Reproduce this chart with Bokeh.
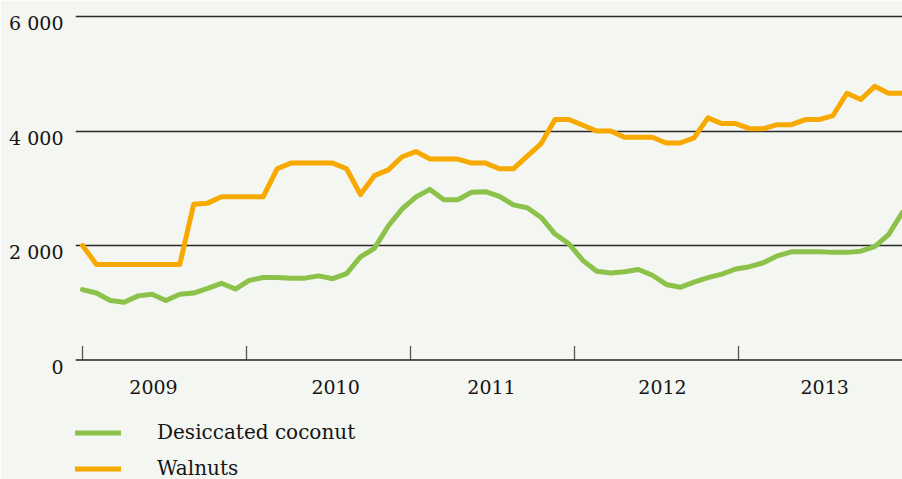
from bokeh.plotting import figure
from bokeh.models import (Range1d, FixedTicker, Legend, LegendItem, ColumnDataSource,
                          LinearAxis, Grid, Span)
from bokeh.core.properties import value
from bokeh.embed import file_html
from bokeh.resources import INLINE

# ---- data (monthly, Jan 2009 .. Dec 2013) ----
month_index = list(range(60))
coconut = [1230, 1170, 1040, 1010, 1120, 1150, 1040, 1150, 1170, 1250,
           1340, 1240, 1390, 1440, 1440, 1430, 1430, 1470, 1420, 1510,
           1800, 1950, 2340, 2640, 2850, 2980, 2800, 2800, 2930, 2940,
           2860, 2710, 2660, 2490, 2200, 2030, 1740, 1550, 1520, 1540,
           1580, 1480, 1320, 1270, 1360, 1440, 1500, 1590, 1630, 1700,
           1820, 1890, 1890, 1890, 1880, 1880, 1900, 1980, 2190, 2580]
walnuts = [2000, 1670, 1670, 1670, 1670, 1670, 1670, 1670, 2720, 2740,
           2850, 2850, 2850, 2850, 3340, 3440, 3440, 3440, 3440, 3340,
           2890, 3220, 3320, 3550, 3640, 3510, 3510, 3510, 3440, 3440,
           3340, 3340, 3560, 3780, 4200, 4200, 4100, 4000, 4000, 3890,
           3890, 3890, 3790, 3790, 3880, 4230, 4130, 4130, 4040, 4040,
           4110, 4110, 4200, 4200, 4270, 4660, 4550, 4780, 4660, 4660]
years = ["2009", "2010", "2011", "2012", "2013"]
y_ticks = [0, 2000, 4000, 6000]
y_tick_labels = ["0", "2 000", "4 000", "6 000"]
series_names = ["Desiccated coconut", "Walnuts"]

# ---- layout constants ----
W, H = 902, 479
FRAME_LEFT, FRAME_TOP = 75, 10
Y_TOP = 6105
Y_PX = 349.5 / Y_TOP                     # px per unit (0 -> y=359.5)
Y_BOTTOM = Y_TOP - (H - FRAME_TOP) / Y_PX
LABEL_SHIFT = 6.5 / Y_PX                 # y labels sit a little below their lines
TICK_LEN = 14 / Y_PX
n_int = len(month_index) - 1
year_bounds = [k * n_int / len(years) for k in range(len(years))]
year_label_pos = [5.11, 18.21, 29.43, 41.73, 53.4]
GREEN = "#8cc24a"
ORANGE = "#f8a900"
BG = "#f3f6f1"
FONT = "DejaVu Serif"
TEXT = "#141414"
FS = "19px"

src = ColumnDataSource(dict(x=month_index, coconut=coconut, walnuts=walnuts))

p = figure(width=W, height=H, output_backend="svg", toolbar_location=None,
           x_range=Range1d(-0.504, n_int), y_range=Range1d(Y_BOTTOM, Y_TOP),
           x_axis_location=None, y_axis_location=None,
           min_border_left=FRAME_LEFT, min_border_right=0,
           min_border_top=FRAME_TOP, min_border_bottom=0)
p.background_fill_color = BG
p.border_fill_color = BG
p.outline_line_color = None
p.xgrid.visible = False
p.ygrid.visible = False
p.extra_y_ranges = {"labels": Range1d(Y_BOTTOM + LABEL_SHIFT, Y_TOP + LABEL_SHIFT)}

# grid lines
p.add_layout(Grid(dimension=1, ticker=FixedTicker(ticks=y_ticks[1:]),
                  grid_line_color="#2a2a2a", grid_line_width=1.3))
# x axis line at zero
p.add_layout(Span(location=0, dimension="width", line_color="#222222", line_width=1.5))

# year boundary ticks
p.segment(x0=year_bounds, y0=[0] * len(years), x1=year_bounds,
          y1=[TICK_LEN] * len(years), line_color="#555555", line_width=1.3)
# year labels
p.text(x=year_label_pos, y=[0] * len(years), text=years, y_offset=27,
       text_align="center", text_baseline="middle", text_font=value(FONT),
       text_font_size=FS, text_color=TEXT)

r1 = p.line("x", "coconut", source=src, line_color=GREEN, line_width=5,
            line_join="round", line_cap="round")
r2 = p.line("x", "walnuts", source=src, line_color=ORANGE, line_width=5,
            line_join="round", line_cap="round")

# y axis (labels only)
yax = LinearAxis(y_range_name="labels", ticker=FixedTicker(ticks=y_ticks),
                 major_label_overrides={t: l for t, l in zip(y_ticks, y_tick_labels)})
yax.axis_line_color = None
yax.major_tick_line_color = None
yax.minor_tick_line_color = None
yax.major_tick_out = 0
yax.major_tick_in = 0
yax.major_label_standoff = 12
yax.major_label_text_font = FONT
yax.major_label_text_font_size = FS
yax.major_label_text_color = TEXT
p.add_layout(yax, "left")

legend = Legend(items=[LegendItem(label=series_names[0], renderers=[r1]),
                       LegendItem(label=series_names[1], renderers=[r2])],
                location=(0, -5.5), orientation="vertical",
                padding=0, margin=0, spacing=3,
                glyph_width=46, glyph_height=33, label_height=33,
                label_standoff=36, border_line_color=None,
                background_fill_alpha=0,
                label_text_font=FONT, label_text_font_size="20px",
                label_text_color=TEXT)
p.add_layout(legend, "center")

open("out.html", "w").write(file_html(p, INLINE))
